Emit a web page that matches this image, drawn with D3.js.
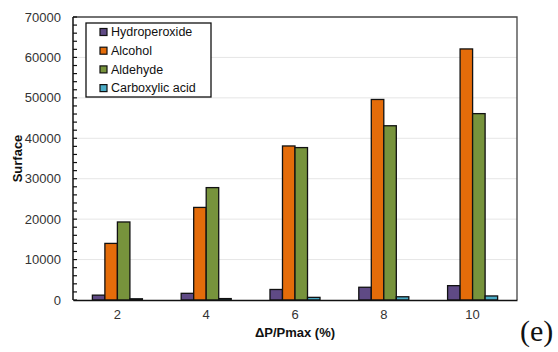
<!DOCTYPE html>
<html>
<head>
<meta charset="utf-8">
<script src="https://cdn.jsdelivr.net/npm/d3@7"></script>
<style>
  html, body { margin: 0; padding: 0; background: #fff; }
  svg { display: block; }
</style>
</head>
<body>
<svg id="chart" width="558" height="352"></svg>
<script>
// Pressure drop categories (x axis)
const categories = ["2", "4", "6", "8", "10"];

// Surface values per product family
const hydroperoxide  = [1200, 1650, 2600, 3150, 3550];
const alcohol        = [14000, 22900, 38100, 49600, 62100];
const aldehyde       = [19300, 27800, 37700, 43100, 46100];
const carboxylicAcid = [300, 350, 650, 800, 1000];

const seriesNames  = ["Hydroperoxide", "Alcohol", "Aldehyde", "Carboxylic acid"];
const seriesValues = [hydroperoxide, alcohol, aldehyde, carboxylicAcid];
const seriesColors = ["#5f4a85", "#e46c0a", "#77933c", "#4bacc6"];

const yTicks = [0, 10000, 20000, 30000, 40000, 50000, 60000, 70000];

const svg = d3.select("#chart");
const plotLeft = 73, plotRight = 517, plotTop = 17, plotBottom = 300;
const font = "Liberation Sans, Arial, sans-serif";

const x = d3.scaleBand().domain(categories).range([plotLeft, plotRight]).padding(0);
const xInner = d3.scaleBand().domain(seriesNames)
  .range([0, x.bandwidth()]).paddingOuter(1.55).paddingInner(0);
const y = d3.scaleLinear().domain([0, 70000]).range([plotBottom, plotTop]);

// Horizontal gridlines
svg.append("g")
  .selectAll("line")
  .data(yTicks.slice(1, -1))
  .join("line")
  .attr("x1", plotLeft).attr("x2", plotRight)
  .attr("y1", d => y(d)).attr("y2", d => y(d))
  .attr("stroke", "#e6e6e6").attr("stroke-width", 1);

// Bars
const groups = svg.append("g")
  .selectAll("g")
  .data(categories)
  .join("g")
  .attr("transform", d => `translate(${x(d)},0)`);

groups.selectAll("rect")
  .data((c, i) => seriesNames.map((s, k) => ({ s, k, v: seriesValues[k][i] })))
  .join("rect")
  .attr("x", d => xInner(d.s))
  .attr("y", d => y(d.v))
  .attr("width", xInner.bandwidth())
  .attr("height", d => plotBottom - y(d.v))
  .attr("fill", d => seriesColors[d.k])
  .attr("stroke", "#111")
  .attr("stroke-width", 1.3);

// Plot frame (top and right)
svg.append("path")
  .attr("d", `M${plotLeft},${plotTop}H${plotRight}V${plotBottom}`)
  .attr("fill", "none").attr("stroke", "#444").attr("stroke-width", 1.3);

// Y axis with inward minor ticks
const yAxis = svg.append("g").attr("transform", `translate(${plotLeft},0)`);
yAxis.append("line")
  .attr("x1", 0).attr("x2", 0).attr("y1", plotTop).attr("y2", plotBottom)
  .attr("stroke", "#111").attr("stroke-width", 1.5);
yAxis.selectAll("line.minor")
  .data(d3.range(0, 70001, 2000))
  .join("line").attr("class", "minor")
  .attr("x1", 0).attr("x2", 4)
  .attr("y1", d => y(d)).attr("y2", d => y(d))
  .attr("stroke", "#111").attr("stroke-width", 1.2);
yAxis.selectAll("text")
  .data(yTicks)
  .join("text")
  .attr("x", -12).attr("y", d => y(d))
  .attr("dy", "0.35em")
  .attr("text-anchor", "end")
  .attr("font-family", font).attr("font-size", 13)
  .attr("fill", "#333")
  .text(d => d);

// X axis
const xAxis = d3.axisBottom(x).tickSize(0).tickPadding(10);
const xg = svg.append("g").attr("transform", `translate(0,${plotBottom})`).call(xAxis);
xg.select(".domain").attr("stroke", "#111").attr("stroke-width", 1.5);
xg.selectAll("text").attr("font-family", font).attr("font-size", 13).attr("fill", "#333");

// Axis titles
svg.append("text")
  .attr("x", (plotLeft + plotRight) / 2).attr("y", 337)
  .attr("text-anchor", "middle")
  .attr("font-family", font).attr("font-size", 13).attr("font-weight", "bold")
  .attr("fill", "#111")
  .text("ΔP/Pmax (%)");

svg.append("text")
  .attr("transform", `translate(22,${(plotTop + plotBottom) / 2}) rotate(-90)`)
  .attr("text-anchor", "middle")
  .attr("font-family", font).attr("font-size", 13).attr("font-weight", "bold")
  .attr("fill", "#111")
  .text("Surface");

// Legend
const legend = svg.append("g");
legend.append("rect")
  .attr("x", 86).attr("y", 23).attr("width", 125).attr("height", 74)
  .attr("fill", "#fff").attr("stroke", "#111").attr("stroke-width", 1.3);
const items = legend.selectAll("g.item")
  .data(seriesNames)
  .join("g").attr("class", "item")
  .attr("transform", (d, i) => `translate(100,${32 + i * 18.7})`);
items.append("rect")
  .attr("x", 0).attr("y", -3.5).attr("width", 7).attr("height", 7)
  .attr("fill", (d, i) => seriesColors[i])
  .attr("stroke", "#111").attr("stroke-width", 1.2);
items.append("text")
  .attr("x", 11).attr("y", 0).attr("dy", "0.35em")
  .attr("font-family", font).attr("font-size", 12.5)
  .attr("fill", "#111")
  .text(d => d);

// Panel label
svg.append("text")
  .attr("x", 520).attr("y", 341)
  .attr("font-family", "Liberation Serif, Times New Roman, serif")
  .attr("font-size", 30)
  .attr("fill", "#111")
  .text("(e)");
</script>
</body>
</html>
